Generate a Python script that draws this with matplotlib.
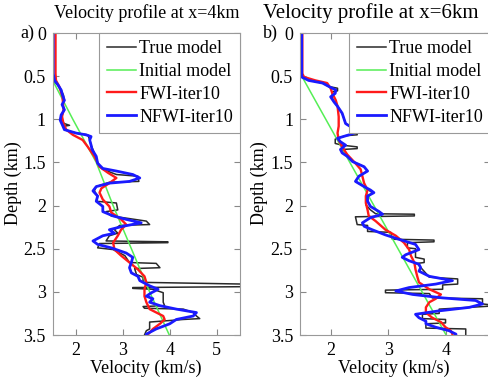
import matplotlib.pyplot as plt
from matplotlib.ticker import FormatStrFormatter

plt.rcParams['font.family'] = ['Liberation Serif', 'DejaVu Serif']
plt.rcParams['font.size'] = 13

# ---- profile at x=4km (depth km, velocity km/s) ----
a_true_d = [0, 0.51, 0.55, 0.60, 0.66, 0.72, 0.78, 0.83, 0.89, 0.95, 1.01, 1.05, 1.07, 1.08,
            1.12, 1.16, 1.18, 1.24, 1.30, 1.35, 1.43, 1.51, 1.58, 1.64, 1.66, 1.72, 1.73, 1.78,
            1.83, 1.89, 1.95, 1.97, 2.05, 2.07, 2.12, 2.18, 2.22, 2.23, 2.28, 2.32, 2.35, 2.41,
            2.42, 2.43, 2.44, 2.49, 2.51, 2.58, 2.66, 2.67, 2.72, 2.73, 2.80, 2.83, 2.89, 2.91,
            2.94, 2.95, 2.96, 2.97, 3.01, 3.12, 3.16, 3.17, 3.19, 3.20, 3.24, 3.28, 3.31, 3.32,
            3.35, 3.43, 3.45, 3.50]
a_true_v = [1.50, 1.50, 1.51, 1.61, 1.68, 1.73, 1.75, 1.71, 1.75, 1.70, 1.68, 1.75, 1.86, 1.75,
            1.75, 2.00, 2.25, 2.29, 2.32, 2.36, 2.41, 2.46, 2.57, 2.86, 3.32, 3.34, 2.71, 2.43,
            2.39, 2.46, 2.43, 2.86, 2.89, 2.64, 2.75, 3.50, 3.57, 2.93, 2.82, 2.89, 2.71, 2.64,
            3.96, 3.96, 2.50, 2.46, 2.79, 3.04, 3.14, 3.71, 3.79, 3.25, 3.29, 3.43, 3.43, 5.60,
            5.60, 3.21, 3.21, 3.64, 3.86, 3.86, 3.89, 3.43, 3.46, 4.29, 4.50, 4.57, 4.64, 4.29,
            3.57, 3.57, 3.50, 3.46]
a_init_d = [0, 0.55, 1.0, 1.5, 2.0, 2.5, 3.0, 3.5]
a_init_v = [1.50, 1.50, 1.93, 2.43, 2.79, 3.18, 3.57, 3.99]
a_fwi_d = [0, 0.47, 0.55, 0.62, 0.74, 0.89, 0.97, 1.05, 1.12, 1.18, 1.24, 1.32, 1.43, 1.55,
           1.62, 1.68, 1.74, 1.80, 1.85, 1.93, 2.01, 2.08, 2.16, 2.22, 2.28, 2.35, 2.43, 2.51,
           2.58, 2.66, 2.74, 2.82, 2.89, 2.97, 3.05, 3.12, 3.20, 3.28, 3.32, 3.37, 3.43, 3.49, 3.50]
a_fwi_v = [1.56, 1.56, 1.57, 1.64, 1.71, 1.73, 1.70, 1.73, 1.79, 1.93, 2.14, 2.25, 2.39, 2.50,
           2.68, 2.86, 2.71, 2.54, 2.50, 2.57, 2.71, 2.75, 2.96, 3.07, 2.96, 2.89, 2.79, 2.82,
           2.96, 3.14, 3.32, 3.46, 3.50, 3.46, 3.46, 3.50, 3.57, 3.86, 3.89, 3.79, 3.64, 3.54, 3.53]
a_nfwi_d = [0, 0.47, 0.55, 0.60, 0.66, 0.72, 0.78, 0.83, 0.89, 0.95, 1.01, 1.07, 1.12, 1.16,
            1.18, 1.20, 1.24, 1.30, 1.35, 1.43, 1.51, 1.57, 1.60, 1.64, 1.68, 1.72, 1.74, 1.78,
            1.83, 1.89, 1.95, 2.01, 2.07, 2.12, 2.16, 2.20, 2.24, 2.28, 2.32, 2.35, 2.41, 2.45,
            2.49, 2.55, 2.60, 2.66, 2.72, 2.78, 2.82, 2.87, 2.93, 2.97, 3.01, 3.05, 3.08, 3.12,
            3.16, 3.20, 3.24, 3.28, 3.32, 3.37, 3.43, 3.49, 3.50]
a_nfwi_v = [1.51, 1.51, 1.54, 1.61, 1.68, 1.71, 1.75, 1.70, 1.75, 1.68, 1.66, 1.71, 1.75, 2.00,
            2.21, 2.32, 2.29, 2.32, 2.34, 2.43, 2.46, 2.57, 2.86, 3.21, 3.36, 3.14, 2.71, 2.43,
            2.36, 2.46, 2.43, 2.57, 2.57, 2.79, 3.07, 3.39, 3.00, 2.71, 2.82, 2.57, 2.36, 2.46,
            2.75, 3.07, 3.21, 3.18, 3.14, 3.18, 3.32, 3.36, 3.57, 3.75, 3.61, 3.50, 3.64, 3.57,
            3.79, 4.14, 4.57, 4.50, 4.14, 4.00, 3.71, 3.50, 3.50]

# ---- profile at x=6km ----
b_true_d = [0, 0.49, 0.51, 0.55, 0.58, 0.62, 0.64, 0.67, 0.68, 0.74, 0.80, 0.85, 0.93, 0.99,
            1.05, 1.10, 1.12, 1.18, 1.19, 1.23, 1.28, 1.30, 1.32, 1.34, 1.35, 1.43, 1.49, 1.55,
            1.60, 1.66, 1.72, 1.78, 1.85, 1.91, 1.99, 2.05, 2.095, 2.10, 2.12, 2.13, 2.22, 2.23,
            2.30, 2.31, 2.39, 2.40, 2.42, 2.43, 2.49, 2.50, 2.60, 2.62, 2.66, 2.67, 2.74, 2.83,
            2.85, 2.91, 2.92, 2.97, 2.98, 3.01, 3.02, 3.07, 3.08, 3.14, 3.16, 3.18, 3.20, 3.25,
            3.26, 3.31, 3.32, 3.36, 3.37, 3.42, 3.43, 3.50]
b_true_v = [1.50, 1.50, 1.50, 1.65, 1.86, 1.97, 2.12, 2.12, 2.04, 2.02, 2.06, 2.12, 2.20, 2.23,
            2.26, 2.38, 2.46, 2.46, 2.26, 2.08, 2.08, 2.20, 2.46, 2.46, 2.20, 2.29, 2.38, 2.58,
            2.64, 2.49, 2.43, 2.58, 2.72, 2.64, 2.61, 2.69, 2.78, 3.45, 3.45, 2.43, 2.46, 2.64,
            2.64, 3.04, 3.07, 3.79, 3.79, 3.33, 3.33, 3.47, 3.47, 3.62, 3.62, 3.50, 3.59, 3.71,
            4.20, 4.20, 3.94, 3.94, 2.95, 2.95, 3.71, 3.76, 4.63, 4.63, 4.90, 4.40, 3.88, 3.88,
            3.59, 3.59, 3.99, 3.99, 3.65, 3.65, 4.34, 4.34]
b_init_d = [0, 0.5, 3.5]
b_init_v = [1.50, 1.50, 4.00]
b_fwi_d = [0, 0.47, 0.51, 0.55, 0.58, 0.64, 0.70, 0.78, 0.85, 0.97, 1.08, 1.16, 1.24, 1.32,
           1.41, 1.51, 1.58, 1.66, 1.74, 1.82, 1.89, 1.97, 2.05, 2.12, 2.18, 2.28, 2.35, 2.43,
           2.51, 2.58, 2.66, 2.74, 2.82, 2.89, 2.97, 3.03, 3.08, 3.12, 3.18, 3.24, 3.30, 3.35,
           3.41, 3.45, 3.49, 3.50]
b_fwi_v = [1.51, 1.51, 1.54, 1.74, 1.94, 2.00, 2.03, 2.09, 2.12, 2.14, 2.14, 2.12, 2.14, 2.20,
           2.29, 2.43, 2.52, 2.55, 2.58, 2.64, 2.61, 2.61, 2.64, 2.66, 2.78, 2.95, 3.13, 3.27,
           3.36, 3.39, 3.45, 3.47, 3.50, 3.53, 3.71, 3.91, 3.82, 3.71, 3.65, 3.65, 3.76, 3.91,
           3.99, 4.08, 4.11, 4.11]
b_nfwi_d = [0, 0.47, 0.51, 0.55, 0.58, 0.62, 0.66, 0.70, 0.74, 0.80, 0.85, 0.93, 0.99, 1.05,
            1.10, 1.14, 1.18, 1.22, 1.26, 1.30, 1.35, 1.39, 1.43, 1.49, 1.55, 1.60, 1.66, 1.72,
            1.78, 1.82, 1.85, 1.89, 1.95, 2.01, 2.07, 2.10, 2.14, 2.20, 2.24, 2.28, 2.34, 2.39,
            2.45, 2.51, 2.57, 2.60, 2.64, 2.68, 2.72, 2.76, 2.82, 2.87, 2.91, 2.95, 2.99, 3.03,
            3.07, 3.10, 3.14, 3.18, 3.22, 3.26, 3.30, 3.34, 3.37, 3.41, 3.45, 3.49, 3.50]
b_nfwi_v = [1.50, 1.50, 1.50, 1.62, 1.86, 1.97, 2.09, 2.08, 2.00, 2.06, 2.12, 2.20, 2.23, 2.26,
            2.38, 2.49, 2.32, 2.12, 2.17, 2.26, 2.17, 2.20, 2.29, 2.38, 2.58, 2.64, 2.49, 2.43,
            2.58, 2.69, 2.75, 2.64, 2.64, 2.69, 2.84, 2.90, 2.69, 2.55, 2.58, 2.72, 2.95, 3.18,
            3.47, 3.53, 3.30, 3.24, 3.36, 3.53, 3.56, 3.53, 3.71, 4.11, 3.82, 3.36, 3.13, 3.42,
            3.94, 4.51, 4.63, 4.40, 3.88, 3.47, 3.53, 3.65, 3.65, 3.82, 4.05, 4.17, 4.17]

labels = ['True model', 'Initial model', 'FWI-iter10', 'NFWI-iter10']
W, H = 488, 381
fig = plt.figure(figsize=(W / 100, H / 100), dpi=100)


def px(x0, y0, x1, y1):
    return [x0 / W, 1 - y1 / H, (x1 - x0) / W, (y1 - y0) / H]


def panel(rect, xlim, xticks, data):
    ax = fig.add_axes(rect)
    td, tv, idp, iv, fd, fv, nd, nv = data
    ax.plot(tv, td, color='#2a2a2a', lw=1.1, label=labels[0])
    ax.plot(iv, idp, color='#55ee55', lw=1.1, label=labels[1])
    ax.plot(fv, fd, color='#ff1a1a', lw=1.7, label=labels[2])
    ax.plot(nv, nd, color='#1a1aff', lw=2.0, label=labels[3])
    ax.set_xlim(*xlim)
    ax.set_ylim(3.5, 0)
    ax.set_xticks(xticks)
    ax.set_yticks([0, 0.5, 1, 1.5, 2, 2.5, 3, 3.5])
    ax.yaxis.set_major_formatter(FormatStrFormatter('%g'))
    ax.tick_params(direction='in', length=4, top=True, right=True,
                   color='#888888', labelsize=13, pad=5)
    for s in ax.spines.values():
        s.set_color('#999999')
        s.set_linewidth(0.8)
    leg = ax.legend(loc='upper right', borderaxespad=0, fontsize=13,
                    handlelength=1.65, handletextpad=0.15, labelspacing=0.32,
                    borderpad=0.4, fancybox=False, framealpha=1)
    leg.get_frame().set_edgecolor('#999999')
    leg.get_frame().set_linewidth(0.8)
    return ax


panel(px(52.7, 33, 240, 335), (1.5, 5.5), [2, 3, 4, 5],
      (a_true_d, a_true_v, a_init_d, a_init_v, a_fwi_d, a_fwi_v, a_nfwi_d, a_nfwi_v))
panel(px(300, 33, 490, 335), (1.47, 4.76), [2, 3, 4],
      (b_true_d, b_true_v, b_init_d, b_init_v, b_fwi_d, b_fwi_v, b_nfwi_d, b_nfwi_v))

fig.text(147 / W, 1 - 13 / H, 'Velocity profile at x=4km', ha='center', va='center', fontsize=13)
fig.text(263 / W, 1 - 13 / H, 'Velocity profile at x=6km', ha='left', va='center', fontsize=15)
fig.text(20 / W, 1 - 33 / H, 'a)', ha='left', va='center', fontsize=13)
fig.text(263 / W, 1 - 33 / H, 'b)', ha='left', va='center', fontsize=13)
fig.text(13 / W, 1 - 183 / H, 'Depth (km)', rotation=90, ha='center', va='center', fontsize=13)
fig.text(259 / W, 1 - 183 / H, 'Depth (km)', rotation=90, ha='center', va='center', fontsize=13)
fig.text(146 / W, 1 - 368 / H, 'Velocity (km/s)', ha='center', va='center', fontsize=13)
fig.text(394 / W, 1 - 368 / H, 'Velocity (km/s)', ha='center', va='center', fontsize=13)

fig.savefig('out.png', dpi=100)
